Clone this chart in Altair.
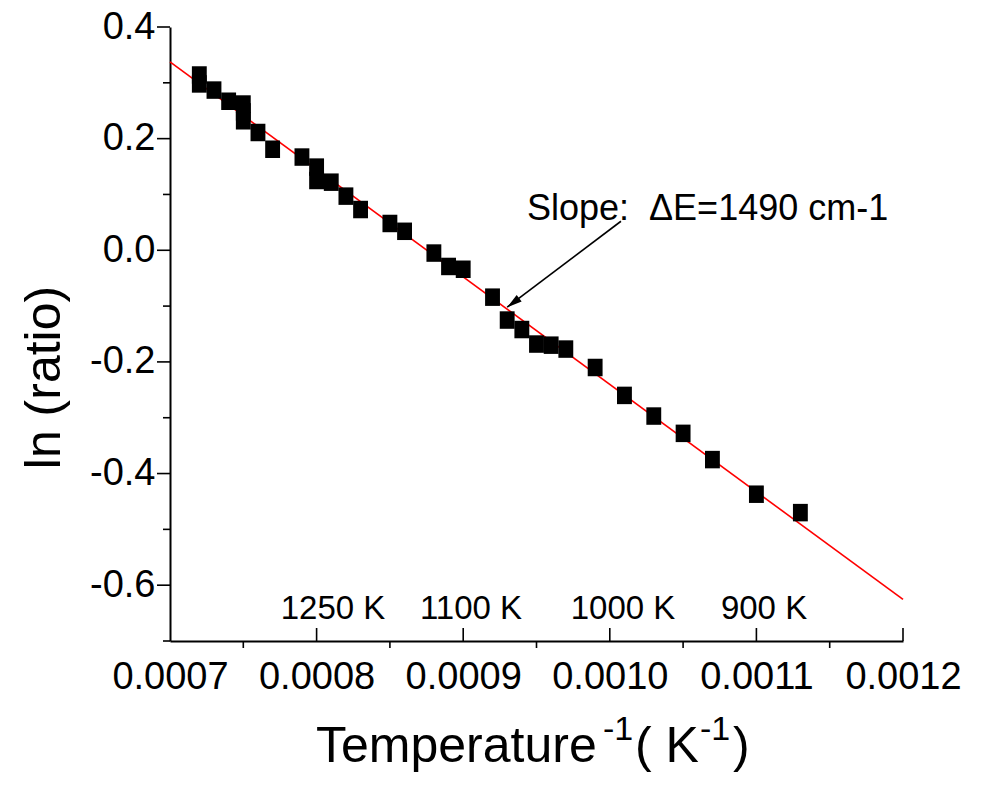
import altair as alt
import pandas as pd

# ---- data ----
inv_T = [0.00072, 0.00072, 0.00073, 0.00074, 0.00075, 0.00075, 0.00075, 0.00076,
         0.00077, 0.00079, 0.00080, 0.00080, 0.00081, 0.00082, 0.00083, 0.00085,
         0.00086, 0.00088, 0.00089, 0.00090, 0.00092, 0.00093, 0.00094, 0.00095,
         0.00096, 0.00097, 0.00099, 0.00101, 0.00103, 0.00105, 0.00107, 0.00110,
         0.00113]
ln_ratio = [0.314, 0.298, 0.287, 0.267, 0.262, 0.248, 0.232, 0.211,
            0.181, 0.167, 0.149, 0.125, 0.122, 0.097, 0.073, 0.048,
            0.034, -0.005, -0.029, -0.034, -0.084, -0.125, -0.142, -0.168,
            -0.170, -0.177, -0.210, -0.260, -0.297, -0.328, -0.375, -0.437,
            -0.470]

fit_x = [0.0007, 0.0012]
fit_y = [0.3375, -0.6254]

arrow_x = [0.0010076, 0.00093]
arrow_y = [0.052, -0.102]

note_text = "Slope:\u00a0 \u0394E=1490 cm-1"
note_x = [0.0009435]
note_y = [0.0538]

temp_labels = ["1250 K", "1100 K", "1000 K", "900 K"]
temp_x = [0.0008112, 0.0009053, 0.0010090, 0.0011052]
temp_y = [-0.661, -0.661, -0.661, -0.661]

x_label_vals = [0.0007, 0.0008, 0.0009, 0.0010, 0.0011, 0.0012]
x_major = [0.0008, 0.0009, 0.0010, 0.0011, 0.0012]
x_minor = [0.00075, 0.00085, 0.00095, 0.00105, 0.00115]
y_major = [-0.6, -0.4, -0.2, 0.0, 0.2, 0.4]
y_minor = [-0.7, -0.5, -0.3, -0.1, 0.1, 0.3]

FONT = "Liberation Sans"
W, H = 733, 614

xsc = alt.Scale(domain=[0.0007, 0.0012], nice=False, zero=False)
ysc = alt.Scale(domain=[-0.70, 0.40], nice=False, zero=False)

x_axis = alt.Axis(values=x_label_vals, format=".4f", title=None, grid=False,
                  ticks=False, tickSize=0, labelPadding=17, labelFontSize=38,
                  labelFont=FONT, labelColor="black", domainColor="black",
                  domainWidth=2, labelFlush=False, labelOverlap=False)
y_axis = alt.Axis(values=y_major, format=".1f", title="ln (ratio)", grid=False,
                  ticks=False, tickSize=0, labelPadding=15, labelFontSize=38,
                  labelFont=FONT, labelColor="black", domainColor="black",
                  domainWidth=2, labelFlush=False, labelOverlap=False,
                  labelExpr="replace(datum.label, '\u2212', '-')",
                  titleFont=FONT, titleFontSize=50, titleFontWeight="normal",
                  titleColor="black", titleX=-111, titleY=350,
                  titleAlign="center", titleBaseline="alphabetic", titleAngle=270)

X = alt.X("x:Q", scale=xsc, axis=x_axis)
Y = alt.Y("y:Q", scale=ysc, axis=y_axis)

pts = pd.DataFrame({"x": inv_T, "y": ln_ratio})
points = alt.Chart(pts).mark_point(
    shape="M-0.85,-1H0.85V1H-0.85Z", size=306, filled=True, color="black", opacity=1
).encode(x=X, y=Y)

fit = alt.Chart(pd.DataFrame({"x": fit_x, "y": fit_y})).mark_line(
    color="#ff0000", strokeWidth=1.6).encode(x=X, y=Y)

arrow_line = alt.Chart(pd.DataFrame({"x": [arrow_x[0]], "y": [arrow_y[0]],
                                     "x2": [arrow_x[1]], "y2": [arrow_y[1]]})).mark_rule(
    color="black", strokeWidth=1.6).encode(x=X, y=Y, x2="x2:Q", y2="y2:Q")

arrow_head = alt.Chart(pd.DataFrame({"x": [arrow_x[1]], "y": [arrow_y[1]]})).mark_point(
    shape="M0,0L-0.55,2L0.55,2Z", size=225, filled=True, color="black", opacity=1,
    angle=233).encode(x=X, y=Y)

note = alt.Chart(pd.DataFrame({"x": note_x, "y": note_y, "t": [note_text]})).mark_text(
    font=FONT, fontSize=36, align="left", baseline="alphabetic", color="black"
).encode(x=X, y=Y, text="t:N")

temps = alt.Chart(pd.DataFrame({"x": temp_x, "y": temp_y, "t": temp_labels})).mark_text(
    font=FONT, fontSize=33, align="center", baseline="alphabetic", color="black"
).encode(x=X, y=Y, text="t:N")

xmaj = alt.Chart(pd.DataFrame({"x": x_major})).mark_rule(color="black", strokeWidth=1.6).encode(
    x=X, y=alt.value(H), y2=alt.value(H - 13))
xmin = alt.Chart(pd.DataFrame({"x": x_minor})).mark_rule(color="black", strokeWidth=1.6).encode(
    x=X, y=alt.value(H), y2=alt.value(H + 7))
ymaj = alt.Chart(pd.DataFrame({"y": y_major})).mark_rule(color="black", strokeWidth=1.6).encode(
    y=Y, x=alt.value(0), x2=alt.value(-13))
ymin = alt.Chart(pd.DataFrame({"y": y_minor})).mark_rule(color="black", strokeWidth=1.6).encode(
    y=Y, x=alt.value(0), x2=alt.value(-7))

one = alt.Data(values=[{"k": 0}])


def label(text, px, py, size):
    return alt.Chart(one).mark_text(
        text=text, font=FONT, fontSize=size, align="left", baseline="alphabetic",
        color="black").encode(x=alt.value(px), y=alt.value(py))


title_parts = [
    label("Temperature", 146, 735, 50),
    label("-1", 433, 713, 34),
    label("( K", 465, 735, 50),
    label("-1", 530, 713, 34),
    label(")", 563, 735, 50),
]

chart = alt.layer(
    xmaj, xmin, ymaj, ymin, fit, arrow_line, arrow_head, points, note, temps, *title_parts
).properties(
    width=W, height=H,
    autosize=alt.AutoSizeParams(type="none"),
    padding={"left": 162, "top": 19, "right": 74, "bottom": 136},
).configure(background="white").configure_view(stroke=None)

chart.save("out.html", embed_options={"renderer": "svg", "actions": False})
